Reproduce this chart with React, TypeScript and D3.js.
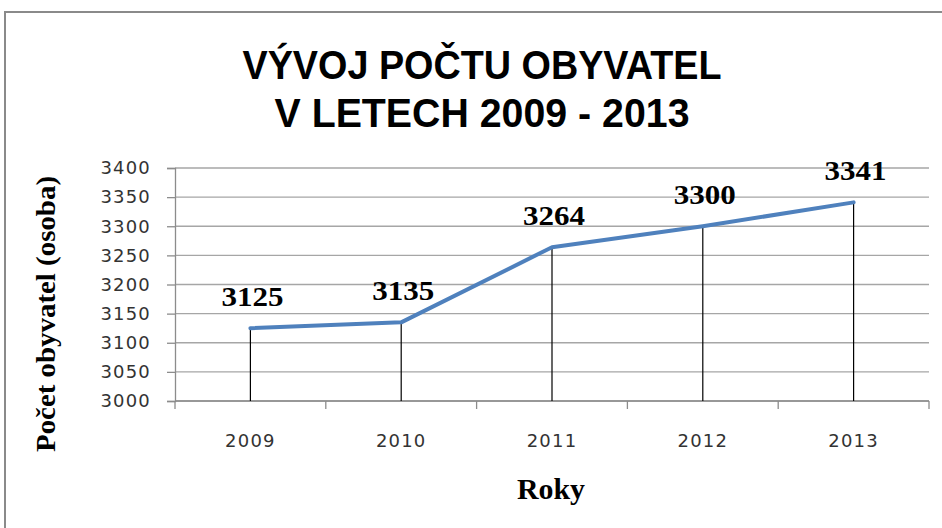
import { useEffect, useRef } from 'react';
import * as d3 from 'd3';

const years = ['2009', '2010', '2011', '2012', '2013'];
const population = [3125, 3135, 3264, 3300, 3341];
const yTicks = [3000, 3050, 3100, 3150, 3200, 3250, 3300, 3350, 3400];
const titleLines = ['VÝVOJ POČTU OBYVATEL', 'V LETECH 2009 - 2013'];
const xTitle = 'Roky';
const yTitle = 'Počet obyvatel (osoba)';

export default function App() {
  const svgRef = useRef<SVGSVGElement>(null);

  useEffect(() => {
    const width = 942;
    const height = 528;
    const margin = { top: 168, right: 13, bottom: 127, left: 175 };
    const innerWidth = width - margin.left - margin.right;
    const innerHeight = height - margin.top - margin.bottom;

    const svg = d3.select(svgRef.current);
    svg.selectAll('*').remove();
    svg.attr('width', width).attr('height', height);

    svg.append('rect').attr('width', width).attr('height', height).attr('fill', '#fff');

    // rámeček
    svg.append('rect')
      .attr('x', 5).attr('y', 12)
      .attr('width', 960).attr('height', 540)
      .attr('fill', 'none')
      .attr('stroke', '#8a8a8a')
      .attr('stroke-width', 2);

    // nadpis
    const titleWidths = [479, 415];
    titleLines.forEach((t, i) => {
      svg.append('text')
        .attr('x', 482)
        .attr('y', 79 + i * 48)
        .attr('text-anchor', 'middle')
        .attr('font-family', '"Liberation Sans", Arial, sans-serif')
        .attr('font-weight', 700)
        .attr('font-size', 41)
        .attr('textLength', titleWidths[i])
        .attr('lengthAdjust', 'spacingAndGlyphs')
        .attr('fill', '#000')
        .text(t);
    });

    const g = svg.append('g').attr('transform', `translate(${margin.left},${margin.top})`);

    const x = d3.scaleBand().domain(years).range([0, innerWidth]);
    const y = d3.scaleLinear().domain([3000, 3400]).range([innerHeight, 0]);

    // mřížka
    g.append('g')
      .selectAll('line')
      .data(yTicks)
      .join('line')
      .attr('x1', 0).attr('x2', innerWidth)
      .attr('y1', d => y(d)).attr('y2', d => y(d))
      .attr('stroke', '#a6a6a6')
      .attr('stroke-width', 1.3);

    // osa Y
    const yAxis = g.append('g')
      .call(d3.axisLeft(y).tickValues(yTicks).tickSize(8).tickPadding(14).tickFormat(d3.format('d')));
    yAxis.select('.domain').attr('stroke', '#8c8c8c').attr('stroke-width', 1.3);
    yAxis.selectAll('.tick line').attr('stroke', '#8c8c8c').attr('stroke-width', 1.3);
    yAxis.selectAll('.tick text')
      .attr('font-family', '"DejaVu Sans", sans-serif')
      .attr('font-size', 18)
      .attr('letter-spacing', 1.2)
      .attr('fill', '#333')
      .attr('dx', -2);

    // osa X
    const xAxis = g.append('g').attr('transform', `translate(0,${innerHeight})`);
    xAxis.append('line')
      .attr('x1', 0).attr('x2', innerWidth)
      .attr('stroke', '#8c8c8c').attr('stroke-width', 1.3);
    const bounds = [...years.map(d => x(d) as number), innerWidth];
    xAxis.selectAll('line.tk')
      .data(bounds)
      .join('line')
      .attr('class', 'tk')
      .attr('x1', d => d).attr('x2', d => d)
      .attr('y1', 0).attr('y2', 8)
      .attr('stroke', '#8c8c8c').attr('stroke-width', 1.3);
    xAxis.selectAll('text')
      .data(years)
      .join('text')
      .attr('x', d => (x(d) as number) + x.bandwidth() / 2)
      .attr('y', 46)
      .attr('text-anchor', 'middle')
      .attr('font-family', '"DejaVu Sans", sans-serif')
      .attr('font-size', 18)
      .attr('letter-spacing', 1.2)
      .attr('fill', '#333')
      .text(d => d);

    const cx = (i: number) => (x(years[i]) as number) + x.bandwidth() / 2;

    // svislé spojnice
    g.append('g')
      .selectAll('line')
      .data(population)
      .join('line')
      .attr('x1', (d, i) => cx(i)).attr('x2', (d, i) => cx(i))
      .attr('y1', d => y(d)).attr('y2', innerHeight)
      .attr('stroke', '#000')
      .attr('stroke-width', 1.2);

    // křivka
    const line = d3.line<number>()
      .x((d, i) => cx(i))
      .y(d => y(d));
    g.append('path')
      .datum(population)
      .attr('fill', 'none')
      .attr('stroke', '#4f81bd')
      .attr('stroke-width', 4)
      .attr('stroke-linejoin', 'round')
      .attr('stroke-linecap', 'round')
      .attr('d', line);

    // popisky hodnot
    g.append('g')
      .selectAll('text')
      .data(population)
      .join('text')
      .attr('x', (d, i) => cx(i) + 2)
      .attr('y', d => y(d) - 22)
      .attr('text-anchor', 'middle')
      .attr('font-family', '"Liberation Serif", "Times New Roman", serif')
      .attr('font-weight', 700)
      .attr('font-size', 28)
      .attr('textLength', 62)
      .attr('lengthAdjust', 'spacingAndGlyphs')
      .attr('fill', '#000')
      .text(d => d);

    // název osy X
    svg.append('text')
      .attr('x', 551)
      .attr('y', 499)
      .attr('text-anchor', 'middle')
      .attr('font-family', '"Liberation Serif", "Times New Roman", serif')
      .attr('font-weight', 700)
      .attr('font-size', 29)
      .attr('textLength', 68)
      .attr('lengthAdjust', 'spacingAndGlyphs')
      .text(xTitle);

    // název osy Y
    svg.append('text')
      .attr('transform', 'translate(55,314) rotate(-90)')
      .attr('text-anchor', 'middle')
      .attr('font-family', '"Liberation Serif", "Times New Roman", serif')
      .attr('font-weight', 700)
      .attr('font-size', 27)
      .attr('textLength', 276)
      .attr('lengthAdjust', 'spacingAndGlyphs')
      .text(yTitle);
  }, []);

  return <svg ref={svgRef} style={{ position: 'absolute', left: 0, top: 0 }} />;
}
